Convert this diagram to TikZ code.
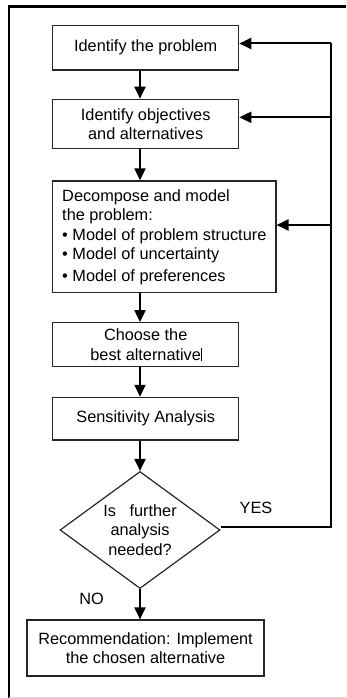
\documentclass[tikz,border=0pt]{standalone}
\usepackage{fontspec}
\setmainfont{Liberation Sans}
\usetikzlibrary{arrows.meta,shapes.geometric,calc}
\tikzset{
  box/.style={draw=black!85, line width=1.2pt, rectangle, inner sep=0pt, align=center,
    font=\fontsize{16.3}{19.5}\selectfont},
  txt/.style={inner sep=0pt, align=center, font=\fontsize{16.3}{19.5}\selectfont},
  conn/.style={line width=2pt, draw=black},
  arr/.style={conn, -{Triangle[length=12pt,width=11pt]}},
}
\begin{document}
\begin{tikzpicture}[x=1pt,y=-1pt]
\useasboundingbox (0,0) rectangle (346,698);
% frame
\draw[line width=2.2pt] (9,698) -- (9,6.5) -- (346,6.5);
\draw[black!15, line width=1pt] (9,697.5) -- (346,697.5);
% boxes
\node[box, minimum width=186pt, minimum height=44.7pt] (b1) at (145.7,47.7) {Identify the problem};
\node[box, minimum width=186pt, minimum height=49.4pt] (b2) at (145.7,124) {Identify objectives\\ and alternatives};
\node[box, minimum width=223.3pt, minimum height=111.7pt, align=left] (b3) at (164.3,236.8)
  {Decompose and model\\ the problem:\\ \textbullet\ Model of problem structure\\ \textbullet\ Model of uncertainty\\[2pt] \textbullet\ Model of preferences};
\node[box, minimum width=186pt, minimum height=44pt] (b4) at (145.7,344.7) {Choose the\\ best alternative};
\node[box, minimum width=186pt, minimum height=42.7pt] (b5) at (145.7,418.7) {Sensitivity Analysis};
\node[draw=black!85, line width=1.2pt, diamond, minimum width=160pt, minimum height=117pt, inner sep=0pt] (d) at (140,530) {};
\node[txt] (dt) at (140,530) {Is~~~further\\ analysis\\ needed?};
\node[box, minimum width=237pt, minimum height=56pt] (rec) at (145.5,648) {Recommendation: Implement\\ the chosen alternative};
% cursor mark
\coordinate (c1) at (201,348.3);
\coordinate (c2) at (201,360.7);
\draw[line width=0.8pt, black!80!blue] (c1) -- (c2);
% labels
\node[txt] (yes) at (256,507.7) {YES};
\node[txt] (no) at (91.5,599) {NO};
% main flow
\draw[arr] (b1.south -| 140,0) -- (b2.north -| 140,0);
\draw[arr] (b2.south -| 140,0) -- (b3.north -| 140,0);
\draw[arr] (b3.south -| 140,0) -- (b4.north -| 140,0);
\draw[arr] (b4.south -| 140,0) -- (b5.north -| 140,0);
\draw[arr] (b5.south -| 140,0) -- (d.north);
\draw[arr] (d.south) -- (rec.north -| d.south);
% feedback
\coordinate (r1) at (331,43.5);
\coordinate (r2) at (331,117.3);
\coordinate (r3) at (331,225);
\coordinate (r4) at (331,527);
\draw[conn] (d.east |- r4) -- (r4) -- (r1);
\draw[arr] (r1) -- (r1 -| b1.east);
\draw[arr] (r2) -- (r2 -| b2.east);
\draw[arr] (r3) -- (r3 -| b3.east);
\end{tikzpicture}
\end{document}
